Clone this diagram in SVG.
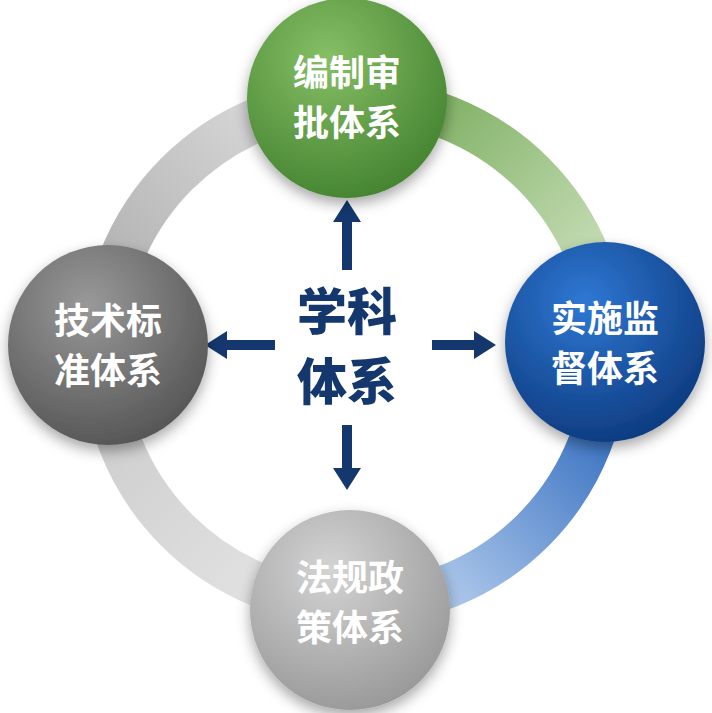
<svg xmlns="http://www.w3.org/2000/svg" width="712" height="713" viewBox="0 0 712 713">
<style>
.lbl{font-family:"Noto Sans CJK SC","Noto Sans CJK JP",sans-serif;font-weight:bold;font-size:36px;fill:#fff;text-anchor:middle}
.ctr{font-family:"Noto Sans CJK SC","Noto Sans CJK JP",sans-serif;font-weight:900;font-size:50px;fill:#14386e;text-anchor:middle}
.ring{fill:none;stroke-width:44}
.arr{fill:#14386e}
</style>
<defs>
<filter id="sh" x="-30%" y="-30%" width="160%" height="160%"><feDropShadow dx="0" dy="6" stdDeviation="7" flood-color="#000" flood-opacity="0.35"/></filter>
<linearGradient id="rg1" x1="0" y1="0" x2="1" y2="1"><stop offset="0" stop-color="#6ea650"/><stop offset="1" stop-color="#dcead0"/></linearGradient>
<linearGradient id="rg2" x1="1" y1="0" x2="0" y2="1"><stop offset="0" stop-color="#1f5fb8"/><stop offset="1" stop-color="#cfe0f6"/></linearGradient>
<linearGradient id="rg3" x1="1" y1="1" x2="0" y2="0"><stop offset="0" stop-color="#e8e8e8"/><stop offset="1" stop-color="#c9c9c9"/></linearGradient>
<linearGradient id="rg4" x1="0" y1="1" x2="1" y2="0"><stop offset="0" stop-color="#a9a9a9"/><stop offset="1" stop-color="#e2e2e2"/></linearGradient>
<radialGradient id="cg" cx="0.4" cy="0.3" r="0.8"><stop offset="0" stop-color="#86bf65"/><stop offset="1" stop-color="#3f7e2c"/></radialGradient>
<radialGradient id="cb" cx="0.4" cy="0.3" r="0.8"><stop offset="0" stop-color="#2f78d4"/><stop offset="1" stop-color="#0a3577"/></radialGradient>
<radialGradient id="cl" cx="0.4" cy="0.3" r="0.8"><stop offset="0" stop-color="#999"/><stop offset="1" stop-color="#4f4f4f"/></radialGradient>
<radialGradient id="cd" cx="0.4" cy="0.3" r="0.8"><stop offset="0" stop-color="#d4d4d4"/><stop offset="1" stop-color="#939393"/></radialGradient>
</defs>
<g id="connectors">
<path class="ring" stroke="url(#rg1)" d="M355 100 A252 252 0 0 1 607 352"/>
<path class="ring" stroke="url(#rg2)" d="M607 352 A252 252 0 0 1 355 604"/>
<path class="ring" stroke="url(#rg3)" d="M355 604 A252 252 0 0 1 103 352"/>
<path class="ring" stroke="url(#rg4)" d="M103 352 A252 252 0 0 1 355 100"/>
<polygon class="arr" points="342,270 342,222 333,222 347,200 361,222 352,222 352,270"/>
<polygon class="arr" points="275,340 227,340 227,331 205,345 227,359 227,350 275,350"/>
<polygon class="arr" points="432,340 474,340 474,331 496,345 474,359 474,350 432,350"/>
<polygon class="arr" points="342,425 342,468 333,468 347,490 361,468 352,468 352,425"/>
</g>
<g id="top"><circle cx="347" cy="98" r="100" fill="url(#cg)" filter="url(#sh)"/><text class="lbl" x="347" y="86">编制审</text><text class="lbl" x="347" y="136">批体系</text></g>
<g id="right"><circle cx="605" cy="342" r="100" fill="url(#cb)" filter="url(#sh)"/><text class="lbl" x="605" y="332">实施监</text><text class="lbl" x="605" y="382">督体系</text></g>
<g id="left"><circle cx="108" cy="345" r="100" fill="url(#cl)" filter="url(#sh)"/><text class="lbl" x="108" y="334">技术标</text><text class="lbl" x="108" y="384">准体系</text></g>
<g id="bottom"><circle cx="350" cy="610" r="100" fill="url(#cd)" filter="url(#sh)"/><text class="lbl" x="350" y="591">法规政</text><text class="lbl" x="350" y="641">策体系</text></g>
<g id="center"><text class="ctr" x="347" y="330">学科</text><text class="ctr" x="347" y="400">体系</text></g>
</svg>
